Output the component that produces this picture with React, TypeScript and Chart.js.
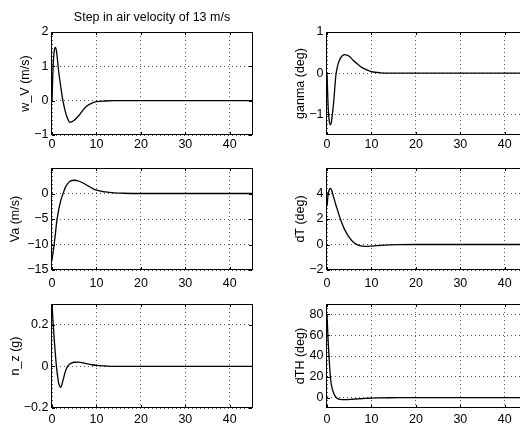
import React, { useEffect, useRef } from "react";
import { Chart, registerables } from "chart.js";

Chart.register(...registerables);
Chart.defaults.font.family = "'Liberation Sans', Arial, Helvetica, sans-serif";
Chart.defaults.color = "#000";

// ---- data ----
const TIME = [0, 0.25, 0.5, 0.75, 1, 1.5, 2, 2.5, 3, 3.5, 4, 5, 6, 7, 8, 9, 10, 12, 14, 16, 20, 25, 30, 35, 40, 45];
const X_TICKS = [0, 10, 20, 30, 40];

const W_V = [0, 1.0, 1.45, 1.55, 1.45, 0.85, 0.38, -0.03, -0.32, -0.52, -0.63, -0.57, -0.44, -0.27, -0.14, -0.07, -0.03, -0.01, 0, 0, 0, 0, 0, 0, 0, 0];
const GANMA = [0, -0.8, -1.15, -1.25, -1.18, -0.7, -0.05, 0.22, 0.36, 0.43, 0.45, 0.41, 0.3, 0.21, 0.13, 0.08, 0.04, 0.01, 0, 0, 0, 0, 0, 0, 0, 0];
const VA = [-13, -11.5, -9.8, -8.0, -6.0, -3.2, -1.3, 0, 1.2, 1.9, 2.35, 2.6, 2.45, 2.05, 1.55, 1.05, 0.65, 0.3, 0.12, 0.05, 0, 0, 0, 0, 0, 0];
const DT = [3.0, 3.9, 4.3, 4.4, 4.3, 3.7, 3.1, 2.55, 2.0, 1.55, 1.15, 0.55, 0.15, -0.05, -0.13, -0.15, -0.12, -0.07, -0.03, -0.01, 0, 0, 0, 0, 0, 0];
const NZ = [0.3, 0.21, 0.13, 0.06, 0, -0.08, -0.1, -0.065, -0.025, 0, 0.012, 0.02, 0.021, 0.017, 0.012, 0.008, 0.005, 0.002, 0, 0, 0, 0, 0, 0, 0, 0];
const DTH = [80, 55, 36, 21, 12, 4.5, 0.5, -1.2, -1.8, -2.0, -2.0, -1.8, -1.5, -1.2, -0.9, -0.7, -0.5, -0.3, -0.15, -0.08, -0.02, 0, 0, 0, 0, 0];

const WV_TICKS = [-1, 0, 1, 2];
const GANMA_TICKS = [-1, 0, 1];
const VA_TICKS = [-15, -10, -5, 0];
const DT_TICKS = [-2, 0, 2, 4];
const NZ_TICKS = [-0.2, 0, 0.2];
const DTH_TICKS = [0, 20, 40, 60, 80];

const TITLE = "Step in air velocity of 13 m/s";

type PanelSpec = {
  label: string;
  values: number[];
  yMin: number;
  yMax: number;
  yTicks: number[];
  left: number;
  top: number;
  width: number;
  height: number;
  axisW: number;
  padTop: number;
  axisH: number;
  xPad: number;
  yTitlePad: number;
  title?: string;
};

const FONT_SIZE = 12.5;
const GRID = "rgba(0,0,0,0.65)";

const fmt = (v: number | string) => {
  const n = Math.round(Number(v) * 1000) / 1000;
  return String(n).replace("-", "\u2212");
};

const boxPlugin = {
  id: "matlabBox",
  afterDatasetsDraw(chart: any) {
    const { ctx, chartArea } = chart;
    const { left, right, top, bottom } = chartArea;
    ctx.save();
    ctx.strokeStyle = "#000";
    ctx.lineWidth = 1;
    ctx.beginPath();
    const xs = chart.scales.x;
    const ys = chart.scales.y;
    for (const t of xs.ticks) {
      const px = Math.round(xs.getPixelForValue(t.value)) + 0.5;
      ctx.moveTo(px, bottom);
      ctx.lineTo(px, bottom - 3);
      ctx.moveTo(px, top);
      ctx.lineTo(px, top + 3);
    }
    for (const t of ys.ticks) {
      const py = Math.round(ys.getPixelForValue(t.value)) + 0.5;
      ctx.moveTo(left, py);
      ctx.lineTo(left + 3, py);
      ctx.moveTo(right, py);
      ctx.lineTo(right - 3, py);
    }
    ctx.stroke();
    ctx.strokeRect(left - 0.5, top + 0.5, right - left + 1, bottom - top - 1);
    ctx.restore();
  },
};

function Panel({ spec }: { spec: PanelSpec }) {
  const ref = useRef<HTMLCanvasElement>(null);
  useEffect(() => {
    const chart = new Chart(ref.current as HTMLCanvasElement, {
      type: "line",
      data: {
        datasets: [
          {
            data: TIME.map((t, i) => ({ x: t, y: spec.values[i] })),
            borderColor: "#000",
            borderWidth: 1.3,
            pointRadius: 0,
            fill: false,
            cubicInterpolationMode: "monotone",
          },
        ],
      },
      options: {
        animation: false,
        responsive: false,
        devicePixelRatio: 1,
        layout: { padding: { top: spec.title ? 0 : spec.padTop, right: 8, left: 0, bottom: 0 } },
        plugins: {
          legend: { display: false },
          tooltip: { enabled: false },
          title: {
            display: !!spec.title,
            text: spec.title || "",
            fullSize: false,
            color: "#000",
            font: { size: FONT_SIZE, weight: "normal" },
            padding: { top: 9.8, bottom: 7.2 },
          },
        },
        scales: {
          x: {
            type: "linear",
            min: 0,
            max: 45,
            afterBuildTicks: (ax: any) => {
              ax.ticks = X_TICKS.map((v) => ({ value: v }));
            },
            afterFit: (ax: any) => {
              ax.height = spec.axisH;
            },
            grid: { color: GRID, drawTicks: false, lineWidth: 1 },
            border: { display: false, dash: [1, 3] },
            ticks: {
              color: "#000",
              font: { size: FONT_SIZE },
              padding: spec.xPad,
              maxRotation: 0,
              autoSkip: false,
              callback: (v: any) => fmt(v),
            },
          },
          y: {
            type: "linear",
            min: spec.yMin,
            max: spec.yMax,
            afterBuildTicks: (ax: any) => {
              ax.ticks = spec.yTicks.map((v) => ({ value: v }));
            },
            afterFit: (ax: any) => {
              ax.width = spec.axisW;
            },
            grid: { color: GRID, drawTicks: false, lineWidth: 1 },
            border: { display: false, dash: [1, 3] },
            title: {
              display: true,
              text: spec.label,
              color: "#000",
              font: { size: FONT_SIZE },
              padding: { top: spec.yTitlePad, bottom: 0 },
            },
            ticks: {
              color: "#000",
              font: { size: FONT_SIZE },
              padding: 3.5,
              autoSkip: false,
              callback: (v: any) => fmt(v),
            },
          },
        },
      } as any,
      plugins: [boxPlugin],
    });
    return () => chart.destroy();
  }, [spec]);
  return (
    <canvas
      ref={ref}
      width={spec.width}
      height={spec.height}
      style={{ position: "absolute", left: spec.left, top: spec.top, width: spec.width, height: spec.height }}
    />
  );
}

const L = { left: 0, width: 260, axisW: 52 };
const R = { left: 260, width: 275, axisW: 67, yTitlePad: 32.9 };

const PANELS: PanelSpec[] = [
  { ...L, top: 0, height: 150, padTop: 32, axisH: 15, xPad: 2, yTitlePad: 17.9, label: "w_V (m/s)", values: W_V, yMin: -1, yMax: 2, yTicks: WV_TICKS, title: TITLE },
  { ...R, top: 0, height: 150, padTop: 32, axisH: 15, xPad: 2, label: "ganma (deg)", values: GANMA, yMin: -1.5, yMax: 1, yTicks: GANMA_TICKS },
  { ...L, top: 150, height: 140, padTop: 18, axisH: 20, xPad: 6.4, yTitlePad: 8.5, label: "Va (m/s)", values: VA, yMin: -15, yMax: 5, yTicks: VA_TICKS },
  { ...R, top: 150, height: 140, padTop: 18, axisH: 20, xPad: 6.4, label: "dT (deg)", values: DT, yMin: -2, yMax: 6, yTicks: DT_TICKS },
  { ...L, top: 290, height: 139, padTop: 14, axisH: 21, xPad: 4.1, yTitlePad: 8.5, label: "n_z (g)", values: NZ, yMin: -0.2, yMax: 0.3, yTicks: NZ_TICKS },
  { ...R, top: 290, height: 139, padTop: 14, axisH: 21, xPad: 4.1, label: "dTH (deg)", values: DTH, yMin: -10, yMax: 90, yTicks: DTH_TICKS },
];

export default function App() {
  return (
    <div
      style={{
        position: "fixed",
        left: 0,
        top: 0,
        width: 520,
        height: 429,
        overflow: "hidden",
        background: "#fff",
      }}
    >
      {PANELS.map((p, i) => (
        <Panel key={i} spec={p} />
      ))}
    </div>
  );
}
